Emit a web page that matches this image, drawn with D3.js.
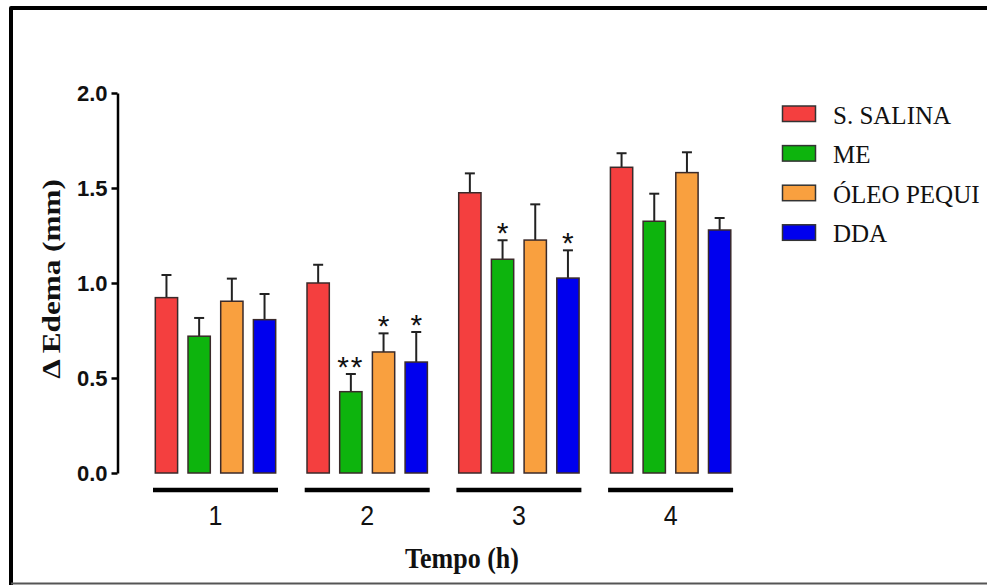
<!DOCTYPE html>
<html><head><meta charset="utf-8">
<script src="https://cdn.jsdelivr.net/npm/d3@7"></script>
<style>body{margin:0;background:#fff}svg{display:block}</style>
</head><body><svg id="c" width="987" height="585"></svg>
<script>
// ---- data ----
const times = ["1", "2", "3", "4"];
const seriesNames = ["S. SALINA", "ME", "ÓLEO PEQUI", "DDA"];
const salina = [0.923, 1.000, 1.475, 1.609];
const salinaErr = [0.119, 0.096, 0.102, 0.074];
const me = [0.720, 0.428, 1.125, 1.325];
const meErr = [0.096, 0.093, 0.100, 0.145];
const oleo = [0.904, 0.637, 1.226, 1.581];
const oleoErr = [0.119, 0.098, 0.188, 0.107];
const dda = [0.807, 0.584, 1.026, 1.279];
const ddaErr = [0.135, 0.158, 0.146, 0.063];
const sigSalina = ["", "", "", ""];
const sigMe = ["", "**", "*", ""];
const sigOleo = ["", "*", "", ""];
const sigDda = ["", "*", "*", ""];
const yTicks = [0, 0.5, 1.0, 1.5, 2.0];
const yLabel = "\u0394 Edema (mm)";
const xLabel = "Tempo (h)";
const colors = ["#F43F3F", "#0DB40D", "#F9A03F", "#0000EE"];

const series = [
  {name: seriesNames[0], vals: salina, err: salinaErr, sig: sigSalina},
  {name: seriesNames[1], vals: me, err: meErr, sig: sigMe},
  {name: seriesNames[2], vals: oleo, err: oleoErr, sig: sigOleo},
  {name: seriesNames[3], vals: dda, err: ddaErr, sig: sigDda}
];
const rows = [];
series.forEach((s, si) => times.forEach((t, ti) => rows.push({t, s: s.name, si, v: s.vals[ti], e: s.err[ti], sig: s.sig[ti]})));

const svg = d3.select("#c");
const serif = "'Liberation Serif','Times New Roman',serif";
const sans = "'Liberation Sans',Arial,sans-serif";

// frame
svg.append("path").attr("d", "M11,585 V8 H995").attr("fill", "none")
  .attr("stroke", "#000").attr("stroke-width", 4).attr("stroke-linejoin", "round");
svg.append("line").attr("x1", 11).attr("x2", 987).attr("y1", 583.5).attr("y2", 583.5)
  .attr("stroke", "#555").attr("stroke-width", 2);

const x0 = d3.scaleBand().domain(times).range([139.65, 746.45]).padding(0);
const x1 = d3.scaleBand().domain(seriesNames).range([0, x0.bandwidth()]).paddingInner(0.318).paddingOuter(0.479);
const y = d3.scaleLinear().domain([0, 2]).range([473, 93]);
const color = d3.scaleOrdinal().domain(seriesNames).range(colors);

// y axis
const ya = svg.append("g").attr("transform", "translate(117.5,0)")
  .call(d3.axisLeft(y).tickValues(yTicks).tickFormat(d3.format(".1f")).tickSize(6).tickSizeOuter(0).tickPadding(4));
ya.select(".domain").attr("stroke", "#000").attr("stroke-width", 2.5);
ya.selectAll(".tick line").attr("stroke", "#000").attr("stroke-width", 2.5);
ya.selectAll(".tick text").attr("font-family", sans).attr("font-weight", "bold").attr("font-size", 22).attr("fill", "#111");

// group underline + labels
const g = svg.append("g");
times.forEach(t => {
  const cx = x0(t) + x0.bandwidth() / 2;
  g.append("line").attr("x1", cx - 62.5).attr("x2", cx + 62.5).attr("y1", 490).attr("y2", 490)
    .attr("stroke", "#000").attr("stroke-width", 4.5);
  g.append("text").attr("transform", `translate(${cx},525) scale(1,1.1)`).attr("text-anchor", "middle")
    .attr("font-family", sans).attr("font-size", 25).attr("fill", "#111").text(t);
});

// error bars
const eb = svg.append("g").attr("stroke", "#222").attr("stroke-width", 2);
rows.forEach(r => {
  const cx = x0(r.t) + x1(r.s) + x1.bandwidth() / 2;
  eb.append("line").attr("x1", cx).attr("x2", cx).attr("y1", y(r.v)).attr("y2", y(r.v + r.e));
  eb.append("line").attr("x1", cx - 5).attr("x2", cx + 5).attr("y1", y(r.v + r.e)).attr("y2", y(r.v + r.e));
});

// bars
svg.append("g").selectAll("rect").data(rows).join("rect")
  .attr("x", d => x0(d.t) + x1(d.s))
  .attr("y", d => y(d.v))
  .attr("width", x1.bandwidth())
  .attr("height", d => y(0) - y(d.v))
  .attr("fill", d => color(d.s))
  .attr("stroke", "#3a2a2a").attr("stroke-width", 1.5);

// significance marks
svg.append("g").selectAll("text").data(rows.filter(d => d.sig)).join("text")
  .attr("x", d => x0(d.t) + x1(d.s) + x1.bandwidth() / 2)
  .attr("y", d => y(d.v + d.e) + 3)
  .attr("text-anchor", "middle")
  .attr("font-family", sans).attr("font-size", 30).attr("letter-spacing", d => d.sig.length > 1 ? 2 : 0)
  .attr("fill", "#111").text(d => d.sig);

// axis titles
svg.append("text").attr("transform", "translate(60,279) rotate(-90) scale(1.2,1)")
  .attr("text-anchor", "middle").attr("font-family", serif).attr("font-weight", "bold")
  .attr("font-size", 26).attr("fill", "#111").text(yLabel);
svg.append("text").attr("transform", "translate(462,568) scale(1,1.15)")
  .attr("text-anchor", "middle").attr("font-family", serif).attr("font-weight", "bold")
  .attr("font-size", 26).attr("fill", "#111").text(xLabel);

// legend
const lg = svg.append("g");
seriesNames.forEach((n, i) => {
  lg.append("rect").attr("x", 782.5).attr("y", 106 + i * 39.6).attr("width", 33).attr("height", 15.5)
    .attr("fill", color(n)).attr("stroke", "#333").attr("stroke-width", 1.5);
  lg.append("text").attr("x", 833).attr("y", 123.5 + i * 39.6)
    .attr("font-family", serif).attr("font-size", 25).attr("fill", "#111").text(n);
});
</script></body></html>
